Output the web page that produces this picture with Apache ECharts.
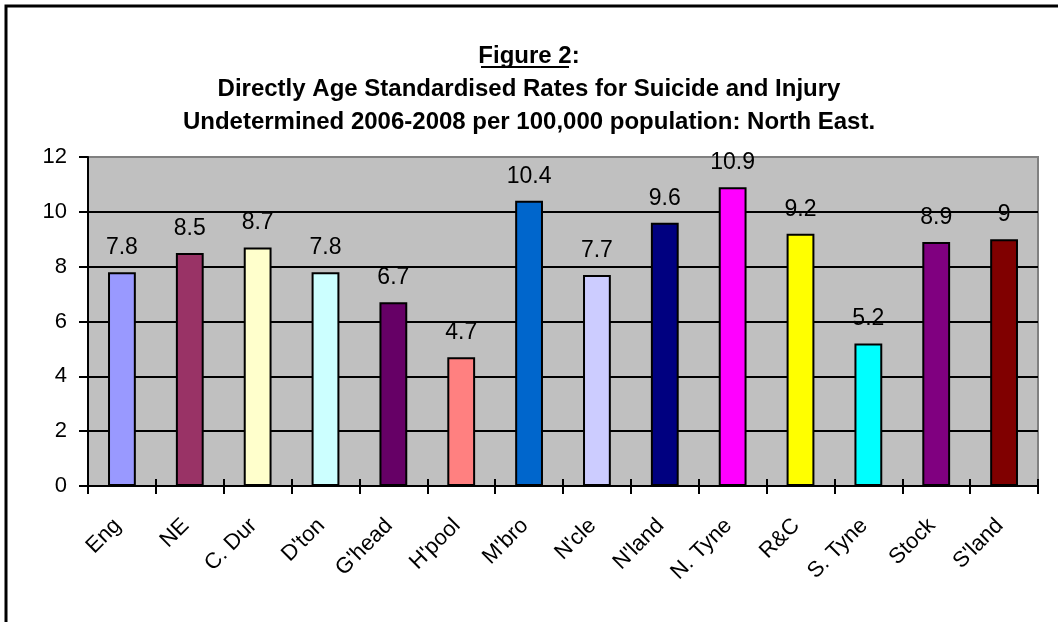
<!DOCTYPE html>
<html>
<head>
<meta charset="utf-8">
<script src="https://cdn.jsdelivr.net/npm/echarts@6/dist/echarts.min.js"></script>
<style>
html,body{margin:0;padding:0;background:#fff;}
#chart{width:1058px;height:622px;}
</style>
</head>
<body>
<div id="chart"></div>
<script>
var categories = ["Eng", "NE", "C. Dur", "D'ton", "G'head", "H'pool", "M'bro", "N'cle", "N'land", "N. Tyne", "R&C", "S. Tyne", "Stock", "S'land"];
var rates = [7.8, 8.5, 8.7, 7.8, 6.7, 4.7, 10.4, 7.7, 9.6, 10.9, 9.2, 5.2, 8.9, 9];
var barColors = ["#9999FF", "#993366", "#FFFFCC", "#CCFFFF", "#660066", "#FF8080", "#0066CC", "#CCCCFF", "#000080", "#FF00FF", "#FFFF00", "#00FFFF", "#800080", "#800000"];
var yTicks = [0, 2, 4, 6, 8, 10, 12];

var FONT = "'Liberation Sans', Arial, sans-serif";
var chart = echarts.init(document.getElementById('chart'), null, {renderer: 'canvas'});
var option = {
  animation: false,
  backgroundColor: '#fff',
  textStyle: {fontFamily: FONT},
  title: {
    left: 'center',
    top: 40,
    padding: 0,
    text: '{u|Figure 2}{b|:}\n{b|Directly Age Standardised Rates for Suicide and Injury}\n{b|Undetermined 2006-2008 per 100,000 population: North East.}',
    textStyle: {
      rich: {
        u: {fontFamily: FONT, fontSize: 24, fontWeight: 'bold', color: '#000', lineHeight: 33},
        b: {fontFamily: FONT, fontSize: 24, fontWeight: 'bold', color: '#000', lineHeight: 33}
      }
    }
  },
  graphic: [
    {type: 'rect', shape: {x: 6, y: 6, width: 1070, height: 640}, style: {fill: 'none', stroke: '#000', lineWidth: 3}, silent: true, z: 100},
    {type: 'line', shape: {x1: 481, y1: 67, x2: 569, y2: 67}, style: {stroke: '#000', lineWidth: 2}, silent: true, z: 100}
  ],
  grid: {
    left: 88, right: 20, top: 157, bottom: 136,
    show: true, backgroundColor: '#C0C0C0', borderColor: '#808080', borderWidth: 2
  },
  xAxis: [{
    type: 'category',
    data: categories,
    axisLine: {show: true, lineStyle: {color: '#000', width: 2}},
    axisTick: {show: true, inside: false, length: 8, lineStyle: {color: '#000', width: 2}},
    axisLabel: {rotate: 45, fontSize: 22, color: '#000', fontFamily: FONT, margin: 32, padding: [0, 6, 0, 0], interval: 0}
  }, {
    type: 'category',
    position: 'bottom',
    data: categories,
    axisLine: {show: false},
    axisTick: {show: true, inside: true, length: 7, lineStyle: {color: '#000', width: 2}},
    axisLabel: {show: false}
  }],
  yAxis: {
    type: 'value',
    min: yTicks[0], max: yTicks[yTicks.length - 1], interval: 2,
    axisLine: {show: true, lineStyle: {color: '#000', width: 2}},
    axisTick: {show: true, inside: false, length: 9, lineStyle: {color: '#000', width: 2}},
    axisLabel: {fontSize: 22, color: '#000', fontFamily: FONT, margin: 21},
    splitLine: {show: true, lineStyle: {color: ['#000', '#000', '#000', '#000', '#000', '#000', '#808080'], width: 2}}
  },
  series: [{
    type: 'bar',
    xAxisIndex: 0,
    barWidth: '41%',
    data: rates.map(function (v, i) {
      return {value: v, itemStyle: {color: barColors[i]}};
    }),
    itemStyle: {borderColor: '#000', borderWidth: 2},
    label: {show: true, position: 'top', distance: 13, fontSize: 23, color: '#000', fontFamily: FONT}
  }]
};
chart.setOption(option);
</script>
</body>
</html>
